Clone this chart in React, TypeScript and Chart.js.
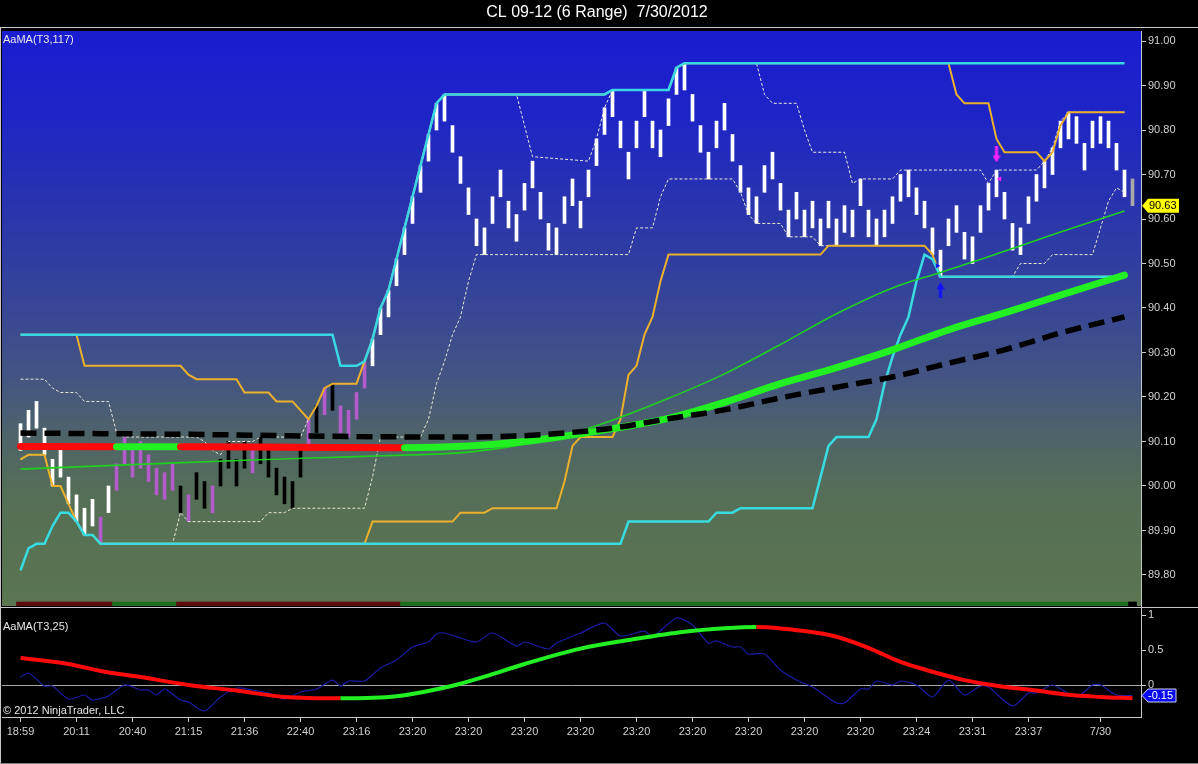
import React, { useEffect, useRef } from 'react';
import { Chart, registerables } from 'chart.js';

Chart.register(...registerables);

// ---------------- text ----------------
const TITLE = 'CL 09-12 (6 Range)  7/30/2012';
const MAIN_LABEL = 'AaMA(T3,117)';
const OSC_LABEL = 'AaMA(T3,25)';
const COPYRIGHT = '\u00A9 2012 NinjaTrader, LLC';

// ---------------- data ----------------
// 6-range bars, index 0..139
const barHigh = [
  90.14, 90.17, 90.19, 90.13, 90.06, 90.08, 90.02, 89.98, 89.95, 89.97,
  89.93, 90.00, 90.05, 90.11, 90.08, 90.10, 90.07, 90.04, 90.03, 90.05,
  90.00, 89.98, 90.03, 90.01, 90.00, 90.06, 90.10, 90.06, 90.10, 90.09,
  90.11, 90.08, 90.04, 90.02, 90.01, 90.08, 90.15, 90.18, 90.22, 90.23,
  90.18, 90.17, 90.21, 90.28, 90.33, 90.40, 90.44, 90.51, 90.58, 90.65,
  90.72, 90.79, 90.86, 90.88, 90.81, 90.74, 90.67, 90.60, 90.58, 90.65,
  90.71, 90.64, 90.61, 90.68, 90.73, 90.66, 90.59, 90.58, 90.65, 90.69,
  90.64, 90.71, 90.78, 90.85, 90.89, 90.82, 90.75, 90.82, 90.89, 90.82,
  90.80, 90.87, 90.94, 90.95, 90.88, 90.81, 90.75, 90.82, 90.86, 90.79,
  90.72, 90.67, 90.65, 90.72, 90.75, 90.68, 90.62, 90.66, 90.62, 90.64,
  90.60, 90.64, 90.60, 90.63, 90.62, 90.69, 90.62, 90.60, 90.62, 90.65,
  90.70, 90.71, 90.67, 90.64, 90.58, 90.53, 90.60, 90.63, 90.57, 90.56,
  90.63, 90.68, 90.71, 90.66, 90.59, 90.58, 90.65, 90.70, 90.73, 90.76,
  90.82, 90.84, 90.83, 90.77, 90.82, 90.83, 90.82, 90.77, 90.71, 90.69,
];
const barLow = [
  90.08, 90.11, 90.13, 90.07, 90.00, 90.02, 89.96, 89.92, 89.89, 89.91,
  89.87, 89.94, 89.99, 90.05, 90.02, 90.04, 90.01, 89.98, 89.97, 89.99,
  89.94, 89.92, 89.97, 89.95, 89.94, 90.00, 90.04, 90.00, 90.04, 90.03,
  90.05, 90.02, 89.98, 89.96, 89.95, 90.02, 90.09, 90.12, 90.16, 90.17,
  90.12, 90.11, 90.15, 90.22, 90.27, 90.34, 90.38, 90.45, 90.52, 90.59,
  90.66, 90.73, 90.80, 90.82, 90.75, 90.68, 90.61, 90.54, 90.52, 90.59,
  90.65, 90.58, 90.55, 90.62, 90.67, 90.60, 90.53, 90.52, 90.59, 90.63,
  90.58, 90.65, 90.72, 90.79, 90.83, 90.76, 90.69, 90.76, 90.83, 90.76,
  90.74, 90.81, 90.88, 90.89, 90.82, 90.75, 90.69, 90.76, 90.80, 90.73,
  90.66, 90.61, 90.59, 90.66, 90.69, 90.62, 90.56, 90.60, 90.56, 90.58,
  90.54, 90.58, 90.54, 90.57, 90.56, 90.63, 90.56, 90.54, 90.56, 90.59,
  90.64, 90.65, 90.61, 90.58, 90.52, 90.47, 90.54, 90.57, 90.51, 90.50,
  90.57, 90.62, 90.65, 90.60, 90.53, 90.52, 90.59, 90.64, 90.67, 90.70,
  90.76, 90.78, 90.77, 90.71, 90.76, 90.77, 90.76, 90.71, 90.65, 90.63,
];
// w = white, k = black, p = purple, g = gray (bar in progress)
const barColorKey =
  'wwwwwwwwww' + 'pwpppppppp' + 'kpkkpkkkkp' + 'kkkkkkpkpk' + 'ppppwwwwww' +
  'wwwwwwwwww' + 'wwwwwwwwww' + 'wwwwwwwwww' + 'wwwwwwwwww' + 'wwwwwwwwww' +
  'wwwwwwwwww' + 'wwwwwwwwww' + 'wwwwwwwwww' + 'wwwwwwwwwg';

type P = [number, number];

const cyanUpper: P[] = [
  [0, 90.34], [39, 90.34], [40, 90.27], [42, 90.27], [43, 90.28], [44, 90.33], [45, 90.40],
  [46, 90.44], [47, 90.51], [48, 90.58], [49, 90.65], [50, 90.72], [51, 90.79], [52, 90.86],
  [53, 90.88], [73, 90.88], [74, 90.89], [81, 90.89], [82, 90.94], [83, 90.95], [138, 90.95],
];
const cyanLower: P[] = [
  [0, 89.81], [1, 89.86], [2, 89.87], [3, 89.87], [4, 89.91], [5, 89.94], [6, 89.94], [7, 89.92],
  [8, 89.89], [9, 89.89], [10, 89.87], [75, 89.87], [76, 89.92], [86, 89.92], [87, 89.94],
  [89, 89.94], [90, 89.95], [99, 89.95], [100, 90.02], [101, 90.09], [102, 90.11], [106, 90.11],
  [107, 90.15], [108, 90.23], [109, 90.29], [110, 90.34], [111, 90.38], [112, 90.46], [113, 90.52],
  [114, 90.51], [115, 90.47], [138, 90.47],
];
const orangeUpper: P[] = [
  [0, 90.34], [7, 90.34], [8, 90.27], [20, 90.27], [21, 90.25], [22, 90.24], [27, 90.24],
  [28, 90.21], [31, 90.21], [32, 90.19], [34, 90.19], [35, 90.17], [36, 90.15], [37, 90.18],
  [38, 90.22], [39, 90.23], [42, 90.23], [43, 90.28], [44, 90.33], [45, 90.40], [46, 90.44],
  [47, 90.51], [48, 90.58], [49, 90.65], [50, 90.72], [51, 90.79], [52, 90.86], [53, 90.88],
  [73, 90.88], [74, 90.89], [81, 90.89], [82, 90.94], [83, 90.95], [116, 90.95], [117, 90.88],
  [118, 90.86], [121, 90.86], [122, 90.78], [123, 90.75], [127, 90.75], [128, 90.73],
  [129, 90.75], [130, 90.81], [131, 90.84], [138, 90.84],
];
const orangeLower: P[] = [
  [0, 90.06], [1, 90.07], [3, 90.07], [4, 90.00], [5, 90.00], [6, 89.96], [7, 89.92], [8, 89.89],
  [9, 89.89], [10, 89.87], [43, 89.87], [44, 89.92], [54, 89.92], [55, 89.94], [58, 89.94],
  [59, 89.95], [67, 89.95], [68, 90.01], [69, 90.09], [70, 90.11], [74, 90.11], [75, 90.15],
  [76, 90.25], [77, 90.27], [78, 90.34], [79, 90.38], [80, 90.46], [81, 90.52], [100, 90.52],
  [101, 90.54], [113, 90.54], [114, 90.52], [115, 90.47], [138, 90.47],
];
const dashUpper: P[] = [
  [0, 90.24], [3, 90.24], [4, 90.22], [5, 90.21], [7, 90.21], [8, 90.19], [11, 90.19], [12, 90.12],
  [13, 90.11], [22, 90.11], [23, 90.10], [24, 90.08], [25, 90.07], [26, 90.10], [29, 90.10],
  [30, 90.11], [35, 90.11], [36, 90.15], [37, 90.18], [38, 90.22], [39, 90.23], [42, 90.23],
  [43, 90.28], [44, 90.33], [45, 90.40], [46, 90.44], [47, 90.51], [48, 90.58], [49, 90.65],
  [50, 90.72], [51, 90.79], [52, 90.86], [53, 90.88], [62, 90.88], [63, 90.81], [64, 90.74],
  [71, 90.73], [72, 90.78], [73, 90.85], [74, 90.89], [81, 90.89], [82, 90.94], [83, 90.95],
  [92, 90.95], [93, 90.88], [94, 90.86], [97, 90.86], [98, 90.80], [99, 90.75], [103, 90.75],
  [104, 90.68], [105, 90.69], [109, 90.69], [110, 90.71], [120, 90.71], [121, 90.68],
  [122, 90.71], [127, 90.71], [128, 90.73], [129, 90.76], [130, 90.82], [131, 90.84], [138, 90.84],
];
const dashLower: P[] = [
  [0, 90.06], [1, 90.07], [3, 90.07], [4, 90.00], [5, 90.00], [6, 89.96], [7, 89.92], [8, 89.89],
  [9, 89.89], [10, 89.87], [19, 89.87], [20, 89.94], [21, 89.92], [30, 89.92], [31, 89.94],
  [33, 89.94], [34, 89.95], [43, 89.95], [44, 90.02], [45, 90.11], [50, 90.11], [51, 90.15],
  [52, 90.23], [53, 90.28], [54, 90.34], [55, 90.38], [56, 90.46], [57, 90.52], [76, 90.52],
  [77, 90.58], [79, 90.58], [80, 90.65], [81, 90.69], [89, 90.69], [90, 90.66], [91, 90.61],
  [92, 90.59], [95, 90.59], [96, 90.56], [99, 90.56], [100, 90.54], [113, 90.54], [114, 90.52],
  [115, 90.47], [124, 90.47], [125, 90.50], [128, 90.50], [129, 90.52], [134, 90.52],
  [135, 90.58], [136, 90.64], [137, 90.67], [138, 90.66],
];
const greenThin: P[] = [
  [0, 90.038], [14, 90.048], [28, 90.058], [42, 90.066], [49, 90.070], [56, 90.076], [63, 90.094],
  [68, 90.114], [74, 90.148], [81, 90.197], [88, 90.252], [95, 90.318], [102, 90.387],
  [109, 90.445], [115, 90.480], [121, 90.515], [125, 90.540], [130, 90.571], [138, 90.618],
];
const t3Line: P[] = [
  [0, 90.089], [12, 90.088], [20, 90.088], [34, 90.087], [48, 90.086], [56, 90.090], [63, 90.100],
  [68, 90.112], [74, 90.129], [81, 90.152], [88, 90.188], [95, 90.230], [102, 90.266],
  [109, 90.306], [116, 90.351], [123, 90.389], [130, 90.429], [138, 90.474],
];
const t3Trend: [number, string][] = [[0, 'r'], [12, 'g'], [20, 'r'], [48, 'g']];
const blackMA: P[] = [
  [0, 90.119], [21, 90.116], [42, 90.111], [56, 90.110], [63, 90.113], [68, 90.119], [74, 90.130],
  [81, 90.151], [88, 90.171], [95, 90.198], [102, 90.222], [109, 90.245], [116, 90.276],
  [123, 90.306], [130, 90.344], [138, 90.380],
];
const upArrows: P[] = [[115, 90.44]];
const downArrows: P[] = [[122, 90.745]];
const blueTicks: P[] = [[114.6, 90.495]];
const magentaTicks: P[] = [[122.4, 90.69]];

const oscT3: P[] = [
  [0, 0.386], [6, 0.30], [10, 0.20], [15, 0.114], [21, 0.0], [27, -0.08], [33, -0.17], [40, -0.19],
  [47, -0.16], [54, -0.01], [58, 0.12], [63, 0.30], [70, 0.52], [77, 0.66], [83, 0.76], [88, 0.81],
  [92, 0.83], [98, 0.77], [102, 0.69], [106, 0.53], [110, 0.33], [114, 0.19], [118, 0.07],
  [122, -0.01], [127, -0.08], [131, -0.14], [135, -0.17], [139, -0.19],
];
const oscTrend: [number, string][] = [[0, 'r'], [40, 'g'], [92, 'r']];
const oscRaw: P[] = [
  [0, 0.114], [1, 0.171], [3, -0.014], [4, -0.014], [6, -0.2], [8, -0.143], [9, -0.214], [11, -0.157],
  [13, 0], [15, -0.071], [16, -0.071], [17, -0.143], [18, -0.057], [20, -0.214], [21, -0.243],
  [23, -0.371], [25, -0.171], [27, -0.043], [29, -0.071], [31, -0.114], [33, -0.2], [35, -0.1],
  [37, -0.057], [39, 0.071], [40, -0.014], [41, 0.057], [43, 0.057], [45, 0.243], [47, 0.357],
  [49, 0.543], [51, 0.614], [52, 0.729], [53, 0.743], [55, 0.671], [57, 0.614], [59, 0.743],
  [62, 0.557], [63, 0.614], [66, 0.514], [67, 0.6], [70, 0.743], [73, 0.886], [75, 0.7],
  [78, 0.771], [79, 0.686], [82, 0.957], [84, 0.857], [86, 0.6], [87, 0.629], [89, 0.543],
  [90, 0.543], [91, 0.443], [93, 0.443], [95, 0.214], [97, 0.071], [99, -0.029], [102, -0.257],
  [103, -0.257], [105, -0.057], [106, -0.057], [107, 0.057], [109, 0], [110, 0.057], [112, 0],
  [114, -0.171], [116, 0.071], [118, -0.143], [120, -0.014], [121, -0.029], [124, -0.3],
  [126, -0.114], [127, -0.114], [129, 0], [132, -0.171], [134, 0], [135, 0], [137, -0.143],
  [139, -0.15],
];

const priceTicks = [89.8, 89.9, 90.0, 90.1, 90.2, 90.3, 90.4, 90.5, 90.6, 90.7, 90.8, 90.9, 91.0];
const oscTicks = [0, 0.5, 1];
const timeTickIdx = [0, 7, 14, 21, 28, 35, 42, 49, 56, 63, 70, 77, 84, 91, 98, 105, 112, 119, 126, 135];
const timeTickLabels = [
  '18:59', '20:11', '20:40', '21:15', '21:36', '22:40', '23:16', '23:20', '23:20', '23:20',
  '23:20', '23:20', '23:20', '23:20', '23:20', '23:20', '23:24', '23:31', '23:37', '7/30',
];

// ---------------- styling / layout ----------------
const FONT = '"Liberation Sans", Arial, sans-serif';
const W = 1198;
const TOP_H = 607;
const BOT_H = 157;
const X_MIN = -2.3125;
const X_MAX = 140.0625;
const P_MIN = 89.7303;
const P_MAX = 91.0225;
const O_MIN = -0.457;
const O_MAX = 1.1;
const AXIS_COL = '#c8c8c8';
const BAR_COLORS: Record<string, string> = { w: '#ffffff', k: '#000000', p: '#b25ccc', g: '#a8a8a8' };
const RED = '#ff0a0a';
const GREEN = '#22f022';

const toXY = (a: P[]) => a.map(([x, y]) => ({ x, y }));
function trendAt(tr: [number, string][], i: number) {
  let c = tr[0][1];
  for (const [s, v] of tr) if (i >= s) c = v;
  return c;
}

function makeArrow(color: string, up: boolean) {
  const c = document.createElement('canvas');
  c.width = 8;
  c.height = 16;
  const g = c.getContext('2d')!;
  g.fillStyle = color;
  g.beginPath();
  if (up) {
    g.moveTo(4, 0); g.lineTo(8, 7); g.lineTo(5.5, 7); g.lineTo(5.5, 16);
    g.lineTo(2.5, 16); g.lineTo(2.5, 7); g.lineTo(0, 7);
  } else {
    g.moveTo(4, 16); g.lineTo(8, 9); g.lineTo(5.5, 9); g.lineTo(5.5, 0);
    g.lineTo(2.5, 0); g.lineTo(2.5, 9); g.lineTo(0, 9);
  }
  g.closePath();
  g.fill();
  return c;
}

const fitY = (scale: any) => {
  scale.width = 57;
  scale.paddingTop = 0; scale.paddingBottom = 0; scale.paddingLeft = 0; scale.paddingRight = 0;
};

function lineDs(data: P[], color: string, width: number, extra: any = {}) {
  return {
    type: 'line',
    data: toXY(data),
    borderColor: color,
    borderWidth: width,
    pointRadius: 0,
    fill: false,
    tension: 0,
    ...extra,
  };
}

export default function App() {
  const topRef = useRef<HTMLCanvasElement>(null);
  const botRef = useRef<HTMLCanvasElement>(null);

  useEffect(() => {
    const last = barHigh.length - 1;
    const lastPrice = barLow[last];
    const lastOsc = oscRaw[oscRaw.length - 1][1];

    const mainPlugin = {
      id: 'mainDeco',
      beforeDraw(chart: any) {
        const { ctx, chartArea: a } = chart;
        ctx.save();
        ctx.fillStyle = '#000';
        ctx.fillRect(0, 0, chart.width, chart.height);
        const gr = ctx.createLinearGradient(0, a.top, 0, a.bottom);
        gr.addColorStop(0, '#1a1cd0');
        gr.addColorStop(0.15, '#1e25c6');
        gr.addColorStop(0.3, '#2933ae');
        gr.addColorStop(0.47, '#364597');
        gr.addColorStop(0.6, '#435483');
        gr.addColorStop(0.7, '#4e636a');
        gr.addColorStop(0.8, '#556e57');
        gr.addColorStop(1, '#5b7650');
        ctx.fillStyle = gr;
        ctx.fillRect(a.left, a.top, a.right - a.left, a.bottom - a.top);
        ctx.fillStyle = AXIS_COL;
        ctx.fillRect(0, 27, chart.width, 1);
        ctx.fillRect(0, 27, 1, chart.height - 27);
        ctx.restore();
      },
      afterDraw(chart: any) {
        const { ctx, chartArea: a } = chart;
        ctx.save();
        ctx.fillStyle = '#ffffff';
        ctx.font = `16px ${FONT}`;
        ctx.textAlign = 'center';
        ctx.textBaseline = 'middle';
        ctx.fillText(TITLE, 597, 13);
        ctx.textAlign = 'left';
        ctx.textBaseline = 'alphabetic';
        ctx.font = `11px ${FONT}`;
        ctx.fillStyle = '#e6e6e6';
        ctx.fillText(MAIN_LABEL, a.left + 1, a.top + 12);
        // price marker
        const y = chart.scales.y.getPixelForValue(lastPrice);
        const x0 = a.right + 1;
        ctx.beginPath();
        ctx.moveTo(x0, y);
        ctx.lineTo(x0 + 6, y - 7);
        ctx.lineTo(x0 + 37, y - 7);
        ctx.lineTo(x0 + 37, y + 7);
        ctx.lineTo(x0 + 6, y + 7);
        ctx.closePath();
        ctx.fillStyle = '#ffff00';
        ctx.fill();
        ctx.fillStyle = '#000';
        ctx.textBaseline = 'middle';
        ctx.fillText(lastPrice.toFixed(2), x0 + 7, y + 0.5);
        ctx.restore();
      },
    };

    const botPlugin = {
      id: 'botDeco',
      beforeDraw(chart: any) {
        const { ctx } = chart;
        ctx.save();
        ctx.fillStyle = '#000';
        ctx.fillRect(0, 0, chart.width, chart.height);
        ctx.restore();
      },
      afterDraw(chart: any) {
        const { ctx, chartArea: a } = chart;
        ctx.save();
        ctx.fillStyle = AXIS_COL;
        ctx.fillRect(0, 0, chart.width, 1);
        ctx.fillRect(0, 0, 1, chart.height);
        ctx.fillStyle = '#808080';
        ctx.fillRect(0, chart.height - 1, chart.width, 1);
        ctx.font = `11px ${FONT}`;
        ctx.fillStyle = '#e6e6e6';
        ctx.textBaseline = 'alphabetic';
        ctx.fillText(OSC_LABEL, a.left + 1, a.top + 22);
        ctx.fillText(COPYRIGHT, a.left + 1, a.bottom - 3);
        const y = chart.scales.y.getPixelForValue(lastOsc);
        const x0 = a.right + 1;
        ctx.beginPath();
        ctx.moveTo(x0, y);
        ctx.lineTo(x0 + 6, y - 6.5);
        ctx.lineTo(x0 + 34, y - 6.5);
        ctx.lineTo(x0 + 34, y + 6.5);
        ctx.lineTo(x0 + 6, y + 6.5);
        ctx.closePath();
        ctx.fillStyle = '#0a0af0';
        ctx.fill();
        ctx.strokeStyle = '#d0d0ff';
        ctx.lineWidth = 1;
        ctx.stroke();
        ctx.fillStyle = '#ffffff';
        ctx.textBaseline = 'middle';
        ctx.fillText(lastOsc.toFixed(2), x0 + 6, y + 0.5);
        ctx.restore();
      },
    };

    const blueArrow = makeArrow('#1010ff', true);
    const magArrow = makeArrow('#ff22ff', false);

    const mainDatasets: any[] = [
      lineDs(upArrows, '#1010ff', 0, { showLine: false, pointRadius: 5, pointStyle: blueArrow }),
      lineDs(downArrows, '#ff22ff', 0, { showLine: false, pointRadius: 5, pointStyle: magArrow }),
      lineDs(blueTicks, '#1010ff', 0, {
        showLine: false, pointRadius: 3, pointStyle: 'triangle', rotation: 90,
        pointBackgroundColor: '#1010ff', pointBorderWidth: 0,
      }),
      lineDs(magentaTicks, '#ff22ff', 0, {
        showLine: false, pointRadius: 3, pointStyle: 'triangle', rotation: -90,
        pointBackgroundColor: '#ff22ff', pointBorderWidth: 0,
      }),
      lineDs(blackMA, '#000000', 5.5, { borderDash: [16, 8], cubicInterpolationMode: 'monotone' }),
      lineDs(t3Line, GREEN, 7, {
        cubicInterpolationMode: 'monotone',
        borderCapStyle: 'round',
        segment: {
          borderColor: (ctx: any) => (trendAt(t3Trend, t3Line[ctx.p0DataIndex][0]) === 'g' ? GREEN : RED),
        },
      }),
      lineDs(greenThin, '#20d020', 1.6, { cubicInterpolationMode: 'monotone' }),
      lineDs(cyanUpper, '#38d8e6', 2.5),
      lineDs(cyanLower, '#38dce0', 2.5),
      lineDs(orangeUpper, '#ebb02c', 2),
      lineDs(orangeLower, '#ebb02c', 2),
      lineDs(dashUpper, '#e8e8dc', 1, { borderDash: [3, 2] }),
      lineDs(dashLower, '#e8e8d0', 1, { borderDash: [3, 2] }),
      {
        type: 'bar',
        data: barHigh.map((h, i) => ({ x: i, y: [barLow[i], h] })),
        backgroundColor: barHigh.map((_, i) => BAR_COLORS[barColorKey[i]]),
        borderWidth: 0,
        barThickness: 3,
        grouped: false,
      },
      {
        type: 'bar',
        data: barHigh.map((_, i) => ({ x: i, y: [P_MIN, P_MIN + 0.009] })),
        backgroundColor: barHigh.map((_, i) =>
          i === last ? '#000000' : trendAt(t3Trend, i) === 'g' ? '#1d6f1d' : '#5e0c0c'),
        borderWidth: 0,
        barThickness: 8,
        grouped: false,
      },
    ];

    const c1 = new Chart(topRef.current as HTMLCanvasElement, {
      type: 'line',
      data: { datasets: mainDatasets },
      plugins: [mainPlugin],
      options: {
        animation: false,
        responsive: false,
        devicePixelRatio: 1,
        events: [],
        layout: { autoPadding: false, padding: { left: 2, top: 31, right: 0, bottom: 1 } },
        plugins: { legend: { display: false }, tooltip: { enabled: false }, title: { display: false } },
        scales: {
          x: {
            type: 'linear', display: false, min: X_MIN, max: X_MAX, offset: false,
            grid: { offset: false },
          },
          y: {
            type: 'linear',
            position: 'right',
            min: P_MIN,
            max: P_MAX,
            afterBuildTicks: (scale: any) => { scale.ticks = priceTicks.map((v) => ({ value: v })); },
            afterFit: fitY,
            border: { display: true, color: AXIS_COL, width: 1 },
            grid: { drawOnChartArea: false, drawTicks: true, tickLength: 5, color: AXIS_COL, tickColor: AXIS_COL },
            ticks: {
              autoSkip: false,
              padding: 2,
              color: '#d2d2d2',
              font: { family: FONT, size: 11 },
              callback: (v: any) => Number(v).toFixed(2),
            },
          },
        },
      } as any,
    } as any);

    const c2 = new Chart(botRef.current as HTMLCanvasElement, {
      type: 'line',
      data: {
        datasets: [
          lineDs(oscT3, RED, 4, {
            cubicInterpolationMode: 'monotone',
            segment: {
              borderColor: (ctx: any) => (trendAt(oscTrend, oscT3[ctx.p0DataIndex][0]) === 'g' ? GREEN : RED),
            },
          }),
          lineDs(oscRaw, '#1c1ca6', 1.2, { tension: 0.25 }),
        ] as any,
      },
      plugins: [botPlugin],
      options: {
        animation: false,
        responsive: false,
        devicePixelRatio: 1,
        events: [],
        layout: { autoPadding: false, padding: { left: 2, top: 1, right: 0, bottom: 0 } },
        plugins: { legend: { display: false }, tooltip: { enabled: false }, title: { display: false } },
        scales: {
          x: {
            type: 'linear',
            position: 'bottom',
            min: X_MIN,
            max: X_MAX,
            offset: false,
            afterBuildTicks: (scale: any) => { scale.ticks = timeTickIdx.map((v) => ({ value: v })); },
            afterFit: (scale: any) => {
              scale.height = 47;
              scale.paddingTop = 0; scale.paddingBottom = 0; scale.paddingLeft = 0; scale.paddingRight = 0;
            },
            border: { display: true, color: AXIS_COL, width: 1 },
            grid: { offset: false, drawOnChartArea: false, drawTicks: true, tickLength: 5, color: AXIS_COL, tickColor: AXIS_COL },
            ticks: {
              autoSkip: false,
              maxRotation: 0,
              minRotation: 0,
              padding: 3,
              color: '#d2d2d2',
              font: { family: FONT, size: 11 },
              callback: (_v: any, i: number) => timeTickLabels[i],
            },
          },
          y: {
            type: 'linear',
            position: 'right',
            min: O_MIN,
            max: O_MAX,
            afterBuildTicks: (scale: any) => { scale.ticks = oscTicks.map((v) => ({ value: v })); },
            afterFit: fitY,
            border: { display: true, color: AXIS_COL, width: 1 },
            grid: {
              drawOnChartArea: true,
              drawTicks: true,
              tickLength: 5,
              tickColor: AXIS_COL,
              color: (c: any) => (c.tick && c.tick.value === 0 ? '#a8a8a8' : 'rgba(0,0,0,0)'),
            },
            ticks: {
              autoSkip: false,
              padding: 2,
              color: '#d2d2d2',
              font: { family: FONT, size: 11 },
              callback: (v: any) => String(v),
            },
          },
        },
      } as any,
    } as any);

    return () => {
      c1.destroy();
      c2.destroy();
    };
  }, []);

  return (
    <div
      style={{
        position: 'fixed', left: 0, top: 0, width: W, height: TOP_H + BOT_H,
        background: '#000', overflow: 'hidden',
      }}
    >
      <canvas
        ref={topRef}
        width={W}
        height={TOP_H}
        style={{ position: 'absolute', left: 0, top: 0, width: W, height: TOP_H }}
      />
      <canvas
        ref={botRef}
        width={W}
        height={BOT_H}
        style={{ position: 'absolute', left: 0, top: TOP_H, width: W, height: BOT_H }}
      />
    </div>
  );
}
